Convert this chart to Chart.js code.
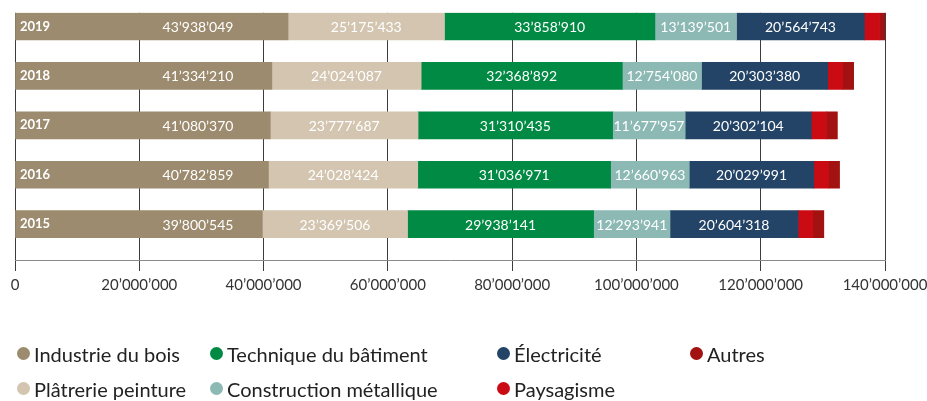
<!DOCTYPE html>
<html lang="fr">
<head>
<meta charset="utf-8">
<title>Chiffre d'affaires par branche</title>
<script src="https://cdn.jsdelivr.net/npm/chart.js@4.4.1/dist/chart.umd.min.js"></script>
<style>
  html, body { margin: 0; padding: 0; background: #fff; }
  #wrap { position: relative; width: 927px; height: 401px; }
  #legend {
    position: absolute; left: 17px; top: 336px;
    display: grid; grid-auto-flow: column;
    grid-template-rows: 35px 35px;
    grid-template-columns: 193px 287px 193px auto;
    font-family: Lato, "Noto Sans", sans-serif; font-size: 20px; color: #222;
  }
  .item { display: flex; align-items: center; white-space: nowrap; }
  .dot { width: 13px; height: 13px; border-radius: 50%; margin-right: 4px; flex: none; }
</style>
</head>
<body>
<div id="wrap">
  <canvas id="chart"></canvas>
  <div id="legend"></div>
</div>
<script>
// data, top bar first
const years = ["2019", "2018", "2017", "2016", "2015"];
const industrieBois = [43938049, 41334210, 41080370, 40782859, 39800545];
const platrerie = [25175433, 24024087, 23777687, 24028424, 23369506];
const techniqueBatiment = [33858910, 32368892, 31310435, 31036971, 29938141];
const constructionMetallique = [13139501, 12754080, 11677957, 12660963, 12293941];
const electricite = [20564743, 20303380, 20302104, 20029991, 20604318];
// no labels on these two
const paysagisme = [2430000, 2410000, 2420000, 2400000, 2390000];
const autres = [1780000, 1760000, 1770000, 1750000, 1760000];
const xTicks = [0, 20000000, 40000000, 60000000, 80000000, 100000000, 120000000, 140000000];

// legend reads down the columns
const legendOrder = [0, 1, 2, 3, 4, 5, 6];

const fmt = (n) => Math.round(n).toString().replace(/\B(?=(\d{3})+(?!\d))/g, "’");
const points = (values) => values.map((v, i) => ({ x: v, y: i }));

const series = [
  { label: "Industrie du bois", values: industrieBois, color: "#9c8b6e", showValue: true },
  { label: "Plâtrerie peinture", values: platrerie, color: "#d3c5b0", showValue: true },
  { label: "Technique du bâtiment", values: techniqueBatiment, color: "#008a43", showValue: true },
  { label: "Construction métallique", values: constructionMetallique, color: "#8db9b4", showValue: true },
  { label: "Électricité", values: electricite, color: "#234466", showValue: true },
  { label: "Paysagisme", values: paysagisme, color: "#cb0b14", showValue: false },
  { label: "Autres", values: autres, color: "#a11210", showValue: false },
];

const valueLabels = {
  id: "valueLabels",
  afterDatasetsDraw(chart) {
    const { ctx, chartArea } = chart;
    ctx.save();
    ctx.font = "14px Lato";
    ctx.fillStyle = "#fff";
    ctx.textAlign = "center";
    ctx.textBaseline = "middle";
    chart.data.datasets.forEach((ds, di) => {
      if (!ds.showValue) return;
      chart.getDatasetMeta(di).data.forEach((bar, i) => {
        // first series label sits clear of the year
        const x = di === 0 ? chartArea.left + 183 : (bar.x + bar.base) / 2;
        ctx.fillText(fmt(ds.data[i].x), x, bar.y + 1);
      });
    });
    ctx.restore();
  },
};

const chart = new Chart(document.getElementById("chart"), {
  type: "bar",
  data: {
    datasets: series.map((s) => ({
      label: s.label,
      data: points(s.values),
      backgroundColor: s.color,
      borderWidth: 0,
      barThickness: 27,
      showValue: s.showValue,
    })),
  },
  options: {
    indexAxis: "y",
    responsive: true,
    maintainAspectRatio: false,
    animation: false,
    layout: { padding: { left: 15, right: 42, top: 11, bottom: 102 } },
    plugins: {
      legend: { display: false },
      tooltip: { enabled: false },
    },
    scales: {
      x: {
        type: "linear",
        stacked: true,
        min: 0,
        max: 140000000,
        afterBuildTicks: (scale) => {
          scale.ticks = xTicks.map((value) => ({ value }));
        },
        afterFit: (scale) => {
          scale.paddingLeft = 0;
          scale.paddingRight = 0;
        },
        ticks: {
          callback: (v) => fmt(v),
          color: "#333",
          font: { family: "Lato", size: 15 },
          padding: 5,
          maxRotation: 0,
          autoSkip: false,
        },
        grid: { color: "#3c3c3c", lineWidth: 1, tickLength: 11 },
        border: { color: "#8a8a8a", width: 1 },
      },
      y: {
        type: "linear",
        stacked: true,
        reverse: true,
        offset: false,
        min: -0.2755,
        max: 4.7245,
        afterBuildTicks: (scale) => {
          scale.ticks = years.map((_, i) => ({ value: i }));
        },
        afterFit: (scale) => {
          scale.width = 0;
        },
        ticks: {
          callback: (v) => years[v],
          mirror: true,
          padding: 5,
          z: 1,
          color: "#fff",
          font: { family: "Lato", size: 13, weight: "bold" },
          autoSkip: false,
        },
        grid: { display: false, drawTicks: false, offset: false },
        border: { display: false },
      },
    },
  },
  plugins: [valueLabels],
});

// html legend, two rows filled column by column
const legend = document.getElementById("legend");
legendOrder.forEach((i) => {
  const ds = chart.data.datasets[i];
  const item = document.createElement("div");
  item.className = "item";
  const dot = document.createElement("span");
  dot.className = "dot";
  dot.style.background = ds.backgroundColor;
  const text = document.createElement("span");
  text.textContent = ds.label;
  item.append(dot, text);
  legend.append(item);
});
</script>
</body>
</html>
